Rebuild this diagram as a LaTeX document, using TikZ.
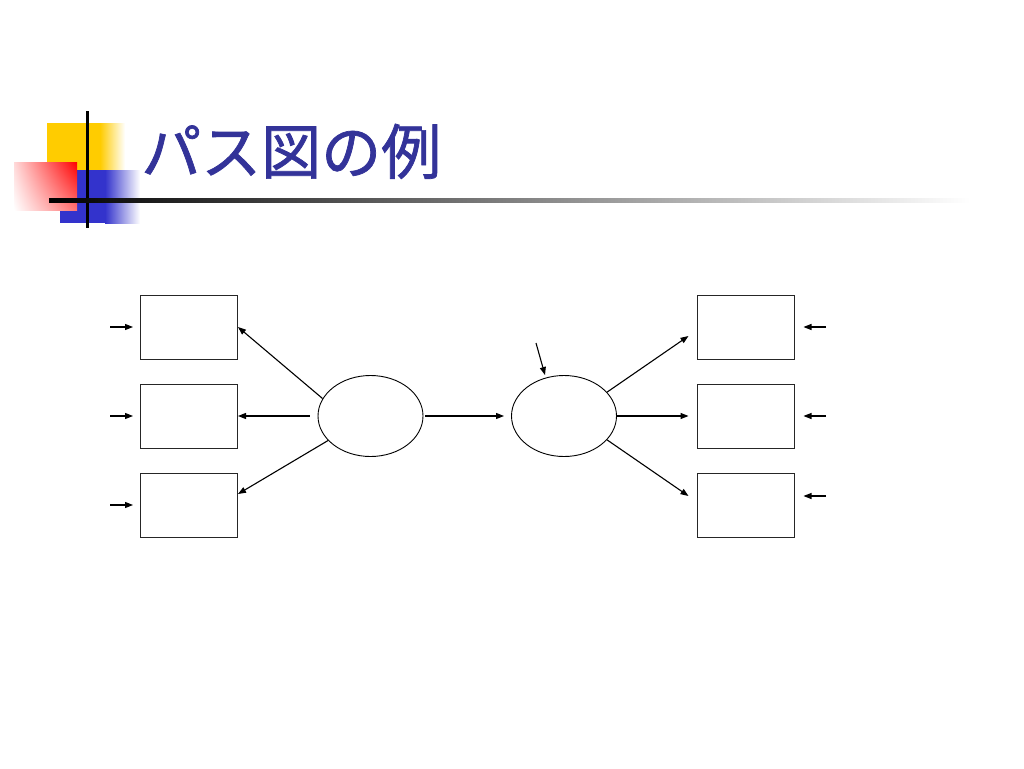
\documentclass[tikz,border=0pt]{standalone}
\usepackage{fontspec}
\newfontfamily\cjk[FakeBold=1.2]{Noto Sans CJK JP}
\usetikzlibrary{shapes.geometric,arrows.meta,shadings}
\definecolor{titleblue}{RGB}{51,51,153}
\definecolor{logoyellow}{RGB}{255,204,0}
\definecolor{logoblue}{RGB}{51,51,204}
\begin{document}
\begin{tikzpicture}[x=1pt,y=-1pt,
  obs/.style={draw=black!85,line width=1pt,minimum width=97pt,minimum height=64pt,inner sep=0pt},
  lat/.style={draw=black,line width=0.9pt,ellipse,minimum width=105pt,minimum height=81pt,inner sep=0pt},
  arr/.style={line width=1.1pt,-{Triangle[length=8pt,width=6pt]}}]
\useasboundingbox[fill=white] (0,0) rectangle (1024,768);
% logo
\fill[logoyellow] (47,123) rectangle (100,172);
\shade[left color=logoyellow,right color=white] (100,123) rectangle (125,172);
\fill[logoblue] (60,170) rectangle (105,223);
\shade[left color=logoblue,right color=white] (105,170) rectangle (140,223);
\shade[upper right=red,upper left=red!15,lower right=red!55,lower left=white] (14,162) rectangle (77,210);
\fill[black] (85.5,111) rectangle (88.5,228);
\shade[left color=black,right color=white] (49,198) rectangle (970,202);
% title
\node[anchor=base west,inner sep=0pt,text=titleblue,font=\cjk\fontsize{60pt}{62pt}\selectfont] (title) at (141,174) {パス図の例};
% observed boxes
\node[obs] (b1) at (189,327) {};
\node[obs] (b2) at (189,416) {};
\node[obs] (b3) at (189,505) {};
\node[obs] (r1) at (745.5,327) {};
\node[obs] (r2) at (745.5,416) {};
\node[obs] (r3) at (745.5,505) {};
% latent
\node[lat] (L) at (370.5,416) {};
\node[lat] (R) at (564,416) {};
% error ends
\coordinate (e1) at (110,327);
\coordinate (e2) at (110,416);
\coordinate (e3) at (110,505);
\coordinate (f1) at (826,327);
\coordinate (f2) at (826,416);
\coordinate (f3) at (826,496);
\coordinate (d) at (536,343);
\draw[arr] (e1) -- ([xshift=-7pt]b1.west);
\draw[arr] (e2) -- ([xshift=-7pt]b2.west);
\draw[arr] (e3) -- ([xshift=-7pt]b3.west);
\draw[arr] (f1) -- ([xshift=9pt]r1.east);
\draw[arr] (f2) -- ([xshift=9pt]r2.east);
\draw[arr] (f3) -- ([xshift=9pt,yshift=9pt]r3.east);
\draw[arr] (d) -- ([xshift=-19pt]R.north);
% loadings
\draw[arr] (L.160) -- (b1.east);
\draw[arr] ([xshift=-8pt]L.west) -- (b2.east);
\draw[arr] (L.210) -- ([yshift=11pt]b3.east);
\draw[arr] ([xshift=2pt]L.east) -- ([xshift=-7pt]R.west);
\draw[arr] (R.29) -- ([xshift=-8pt,yshift=-9pt]r1.west);
\draw[arr] (R.east) -- ([xshift=-8pt]r2.west);
\draw[arr] (R.-29) -- ([xshift=-8pt,yshift=9pt]r3.west);
\end{tikzpicture}
\end{document}
